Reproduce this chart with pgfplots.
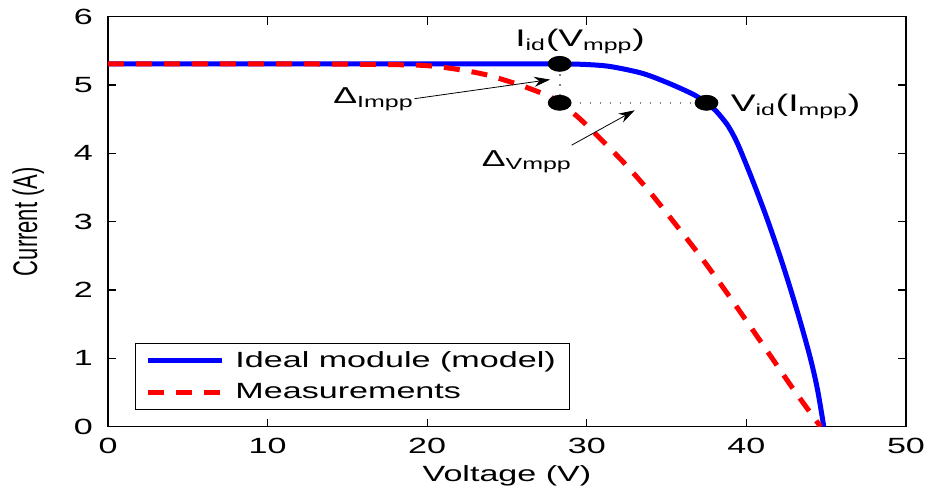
\documentclass[border=0pt]{standalone}
\usepackage{pgfplots}
\pgfplotsset{compat=1.18}
\usepackage{fontspec}
\usepackage{graphicx}
\setmainfont{Liberation Sans}[FakeStretch=1.55]
\newfontfamily\plainfont{Liberation Sans}
\usetikzlibrary{arrows.meta}

\begin{document}
\begin{tikzpicture}
\begin{axis}[
  scale only axis, width=399pt, height=205pt,
  xmin=0, xmax=50, ymin=0, ymax=6,
  xtick={0,10,...,50}, ytick={0,1,...,6},
  tick align=inside, major tick length=4pt,
  axis line style={line width=0.6pt},
  every tick/.style={black, line width=0.6pt},
  /pgf/number format/assume math mode=true,
  font=\fontsize{11}{13}\selectfont,
  xticklabel style={yshift=-2pt},
  yticklabel style={xshift=-4pt},
  xlabel={Voltage (V)},
  ylabel={\scalebox{1}[1.55]{\plainfont\fontsize{11}{13}\selectfont Current (A)}},
  xlabel style={at={(axis description cs:0.5,-0.121)}, anchor=center},
  ylabel style={at={(axis description cs:-0.100,0.5)}, anchor=center},
  legend cell align=left,
  legend style={at={(axis description cs:0.0338,0.0415)}, anchor=south west,
    draw=black, line width=0.5pt, fill=white, inner xsep=5pt, inner ysep=2pt,
    row sep=2.5pt},
  legend image code/.code={\draw[#1] (0pt,0pt) -- (37pt,0pt); \path (40.5pt,0pt);},
]
% ideal module (model)
\addplot[blue, line width=2.5pt, smooth] coordinates {
  (0,5.31) (10,5.31) (20,5.31) (25,5.31) (28.3,5.31) (30,5.30) (31.5,5.27)
  (33.5,5.17) (35.2,5.02) (36.7,4.86) (37.5,4.74) (38.1,4.62) (38.77,4.43)
  (39.2,4.26) (39.6,4.06) (40.43,3.58) (41.27,3.06) (42.1,2.50) (42.73,2.04)
  (43.36,1.55) (44.0,1.01) (44.45,0.55) (44.85,0)
};
\addlegendentry{Ideal module (model)\hspace{3pt}}
% measurements
\addplot[red, line width=2.5pt, dash pattern=on 8pt off 6pt, smooth] coordinates {
  (0,5.31) (10,5.31) (15,5.305) (19.5,5.29) (21.6,5.24) (23.7,5.15)
  (25.8,5.00) (27.5,4.85) (28.3,4.74) (29.5,4.52) (31.0,4.18) (32.5,3.82)
  (34.0,3.42) (35.5,2.98) (37.0,2.53) (38.5,2.05) (40.0,1.55) (41.5,1.04)
  (43.0,0.53) (44.65,0)
};
\addlegendentry{Measurements}
% dotted deltas
\addplot[gray, line width=0.9pt, dash pattern=on 0.9pt off 4.1pt, forget plot]
  coordinates {(28.3,5.31) (28.3,4.74)};
\addplot[gray, line width=0.9pt, dash pattern=on 0.9pt off 4.1pt, forget plot]
  coordinates {(28.3,4.74) (37.5,4.74)};
% points
\addplot[only marks, mark=*, mark size=3.75pt, mark options={black, xscale=1.53}, forget plot]
  coordinates {(28.3,5.31) (28.3,4.74) (37.5,4.74)};

\node[anchor=base west, font=\fontsize{12}{14}\selectfont, inner sep=0pt]
  at (axis cs:25.5,5.56) {I\textsubscript{id}(V\textsubscript{mpp})};
\node[anchor=base west, font=\fontsize{12}{14}\selectfont, inner sep=0pt]
  at (axis cs:39.0,4.61) {V\textsubscript{id}(I\textsubscript{mpp})};
\node[anchor=base west, font=\fontsize{11.5}{13}\selectfont, inner sep=0pt]
  at (axis cs:14.1,4.73) {Δ\textsubscript{Impp}};
\node[anchor=base west, font=\fontsize{11.5}{13}\selectfont, inner sep=0pt]
  at (axis cs:23.4,3.81) {Δ\textsubscript{Vmpp}};
\draw[-{Stealth[length=8pt,width=5pt]}, line width=0.4pt]
  (axis cs:19.2,4.80) -- (axis cs:27.7,5.08);
\draw[-{Stealth[length=8pt,width=5pt]}, line width=0.4pt]
  (axis cs:29.05,4.12) -- (axis cs:33.0,4.63);
\end{axis}
\pgfresetboundingbox
\path[use as bounding box] (-54pt,-33pt) rectangle (409.5pt,213.35pt);
\end{tikzpicture}
\end{document}
